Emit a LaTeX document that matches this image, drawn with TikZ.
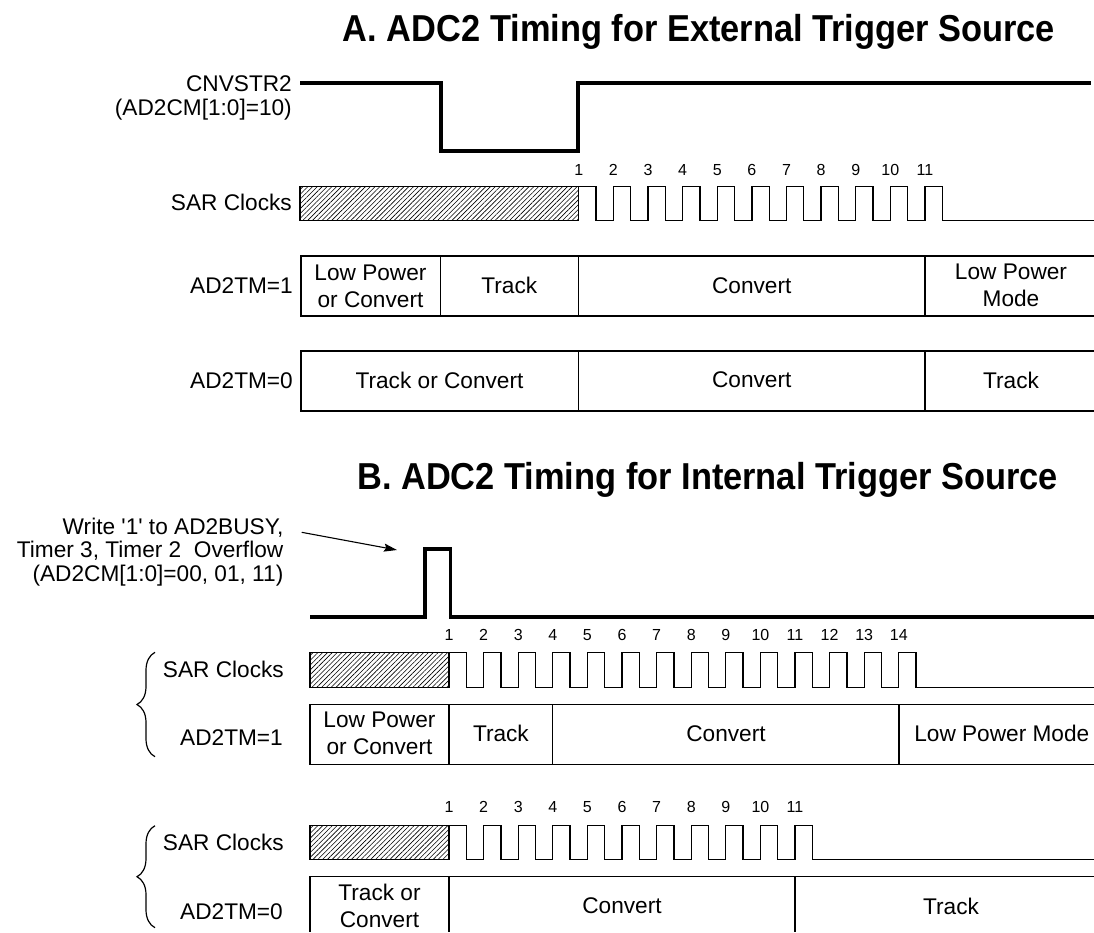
\documentclass[tikz,border=0pt]{standalone}
\usepackage{fontspec}
\setmainfont{Liberation Sans}
\usetikzlibrary{patterns.meta,decorations.pathreplacing,arrows.meta}
\tikzset{
 sig/.style={line width=3.8pt},
 thinln/.style={line width=1.3pt},
 hatchbox/.style={line width=1.2pt, pattern={Lines[angle=45,distance=3.4pt,line width=0.6pt]}},
 lbl/.style={inner sep=0pt, font=\fontsize{22.65}{24}\selectfont},
 cellt/.style={inner sep=0pt, align=center, font=\fontsize{22.65}{27}\selectfont},
 num/.style={inner sep=0pt, font=\fontsize{16}{18}\selectfont},
 ttl/.style={inner sep=0pt, font=\fontsize{37.5}{40}\selectfont\bfseries},
 brc/.style={line width=1.2pt, decorate, decoration={brace, amplitude=18pt}},
}
\begin{document}
\begin{tikzpicture}[x=1pt,y=-1pt]
\useasboundingbox (0,0) rectangle (1094,932);

% ---------- Titles ----------
\node[ttl, anchor=base] (titleA) at (699,41.7) {\scalebox{0.917}[1]{A. ADC2 Timing for External Trigger Source}};
\node[ttl, anchor=base] (titleB) at (707.6,489.4) {\scalebox{0.917}[1]{B. ADC2 Timing for Internal Trigger Source}};

% ---------- Section A ----------
\node[lbl, anchor=base east] (cnv1) at (292,91) {CNVSTR2};
\node[lbl, anchor=base east] (cnv2) at (292,115) {(AD2CM[1:0]=10)};
\draw[sig] (300,82.7) -- (440.7,82.7) -- (440.7,150.7) -- (578.3,150.7) -- (578.3,82.7) -- (1091,82.7);

\node[lbl, anchor=base east] (sarA) at (292,210.5) {SAR Clocks};
\draw[hatchbox] (300,186.7) rectangle (578.7,220.7);
\draw[thinln] (578.7,186.7) foreach \k in {1,...,10} { -- ++(17.315,0) -- ++(0,34) -- ++(17.315,0) -- ++(0,-34) } -- ++(17.315,0) -- ++(0,34) -- (1094,220.7);
\foreach \k in {1,...,11} \node[num] (nA\k) at ({578.7+(\k-1)*34.63},170) {\k};

\node[lbl, anchor=base east] (tmA1) at (293,293) {AD2TM=1};
\draw[thinln] (1094,256) -- (301,256) -- (301,316) -- (1094,316);
\draw[thinln] (440.5,256) -- (440.5,316) (578.5,256) -- (578.5,316) (925,256) -- (925,316);
\node[cellt] (a1c1) at (370.5,286.7) {Low Power\\or Convert};
\node[cellt] (a1c2) at (509.3,285.7) {Track};
\node[cellt] (a1c3) at (751.7,285.7) {Convert};
\node[cellt] (a1c4) at (1011,285.4) {Low Power\\Mode};

\node[lbl, anchor=base east] (tmA0) at (293,388) {AD2TM=0};
\draw[thinln] (1094,351) -- (301,351) -- (301,411) -- (1094,411);
\draw[thinln] (578.5,351) -- (578.5,411) (925,351) -- (925,411);
\node[cellt] (a0c1) at (439.5,380) {Track or Convert};
\node[cellt] (a0c2) at (751.7,380) {Convert};
\node[cellt] (a0c3) at (1011,380) {Track};

% ---------- Section B ----------
\node[lbl, anchor=base east] (wr1) at (283.5,534) {Write \textquotesingle1\textquotesingle\ to AD2BUSY,};
\node[lbl, anchor=base east] (wr2) at (283.5,557.5) {Timer 3, Timer 2~ Overflow};
\node[lbl, anchor=base east] (wr3) at (283.5,581) {(AD2CM[1:0]=00, 01, 11)};
\coordinate (arrs) at (301.7,532.3);
\coordinate (arrt) at (397,550);
\draw[line width=1.1pt, -{Stealth[length=13pt,width=8pt,inset=2pt]}] (arrs) -- (arrt);
\draw[sig] (310,617.3) -- (425,617.3) -- (425,549) -- (450.5,549) -- (450.5,617.3) -- (1094,617.3);

% SAR clocks, AD2TM=1
\draw[brc] (155,756.7) -- (155,652.3);
\node[lbl, anchor=base east] (sarB1) at (284,677) {SAR Clocks};
\draw[hatchbox] (310,652.3) rectangle (449,687.3);
\draw[thinln] (449,652.3) foreach \k in {1,...,13} { -- ++(17.3,0) -- ++(0,35) -- ++(17.3,0) -- ++(0,-35) } -- ++(17.3,0) -- ++(0,35) -- (1094,687.3);
\foreach \k in {1,...,14} \node[num] (nB\k) at ({449+(\k-1)*34.6},635) {\k};

\node[lbl, anchor=base east] (tmB1) at (283,745.5) {AD2TM=1};
\draw[thinln] (1094,704.3) -- (310,704.3) -- (310,764.7) -- (1094,764.7);
\draw[thinln] (449,704.3) -- (449,764.7) (552.8,704.3) -- (552.8,764.7) (898.9,704.3) -- (898.9,764.7);
\node[cellt] (b1c1) at (379.5,733.3) {Low Power\\or Convert};
\node[cellt] (b1c2) at (500.9,733.3) {Track};
\node[cellt] (b1c3) at (726,733.3) {Convert};
\node[cellt] (b1c4) at (1001.8,733) {Low Power Mode};

% SAR clocks, AD2TM=0
\draw[brc] (155,927.7) -- (155,825.7);
\node[lbl, anchor=base east] (sarB0) at (284,850) {SAR Clocks};
\draw[hatchbox] (310,825.7) rectangle (449,859.7);
\draw[thinln] (449,825.7) foreach \k in {1,...,10} { -- ++(17.3,0) -- ++(0,34) -- ++(17.3,0) -- ++(0,-34) } -- ++(17.3,0) -- ++(0,34) -- (1094,859.7);
\foreach \k in {1,...,11} \node[num] (nC\k) at ({449+(\k-1)*34.6},807) {\k};

\node[lbl, anchor=base east] (tmB0) at (283,919) {AD2TM=0};
\draw[thinln] (1094,876.7) -- (310,876.7) -- (310,932);
\draw[thinln] (449,876.7) -- (449,932) (795,876.7) -- (795,932);
\node[cellt] (b0c1) at (379.5,905.8) {Track or\\Convert};
\node[cellt] (b0c2) at (622,905.7) {Convert};
\node[cellt] (b0c3) at (951,906) {Track};
\end{tikzpicture}
\end{document}
